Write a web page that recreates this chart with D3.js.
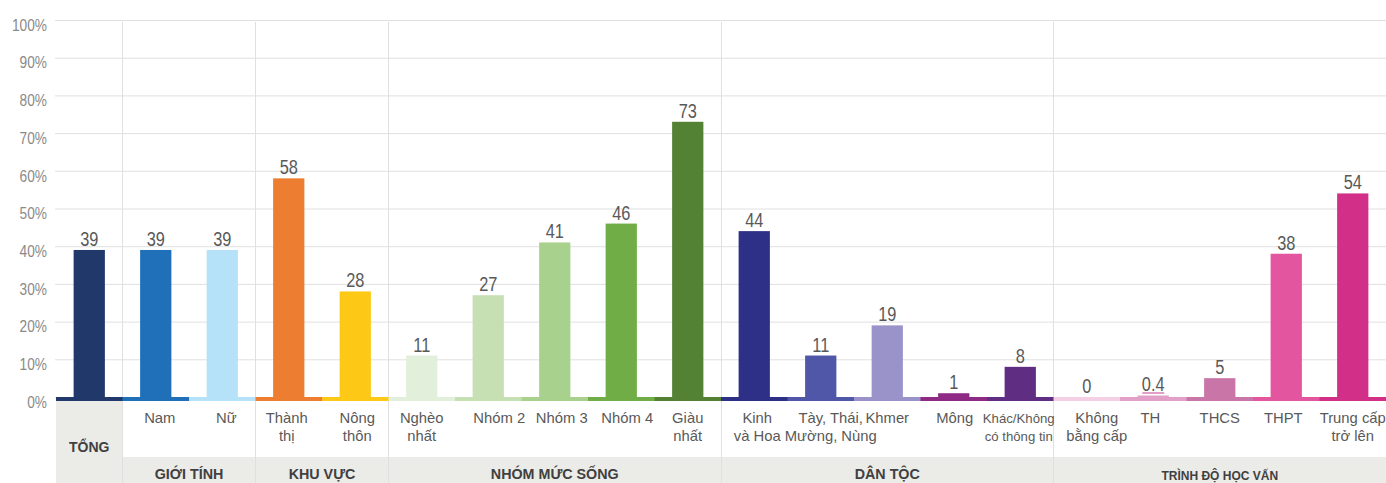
<!DOCTYPE html>
<html>
<head>
<meta charset="utf-8">
<script src="https://cdn.jsdelivr.net/npm/d3@7/dist/d3.min.js"></script>
<style>
  html, body { margin: 0; padding: 0; background: #fff; }
  svg { display: block; }
  text { font-family: "Liberation Sans", Arial, sans-serif; }
</style>
</head>
<body>
<svg id="chart" width="1386" height="483"></svg>
<script>
// Category keys, in drawing order
const categories = [
  "Tổng", "Nam", "Nữ", "Thành thị", "Nông thôn",
  "Nghèo nhất", "Nhóm 2", "Nhóm 3", "Nhóm 4", "Giàu nhất",
  "Kinh và Hoa", "Tày, Thái, Mường, Nùng", "Khmer", "Mông", "Khác/Không có thông tin",
  "Không bằng cấp", "TH", "THCS", "THPT", "Trung cấp trở lên"
];

// Axis-row label lines for each category
const labelLines = [
  ["TỔNG"], ["Nam"], ["Nữ"], ["Thành", "thị"], ["Nông", "thôn"],
  ["Nghèo", "nhất"], ["Nhóm 2"], ["Nhóm 3"], ["Nhóm 4"], ["Giàu", "nhất"],
  ["Kinh", "và Hoa"], ["Tày, Thái,", "Mường, Nùng"], ["Khmer"], ["Mông"], ["Khác/Không", "có thông tin"],
  ["Không", "bằng cấp"], ["TH"], ["THCS"], ["THPT"], ["Trung cấp", "trở lên"]
];

// Share (%) for each category
const values = [39, 39, 39, 58, 28, 11, 27, 41, 46, 73, 44, 11, 19, 1, 8, 0, 0.4, 5, 38, 54];

// Group headings and the index range [start, end) of categories they cover
const groupNames = ["GIỚI TÍNH", "KHU VỰC", "NHÓM MỨC SỐNG", "DÂN TỘC", "TRÌNH ĐỘ HỌC VẤN"];
const groupStarts = [1, 3, 5, 10, 15];
const groupEnds = [3, 5, 10, 15, 20];

// Y-axis ticks
const yTicks = [0, 10, 20, 30, 40, 50, 60, 70, 80, 90, 100];

// Fill colour for each category
const colors = [
  "#21386b", "#1f70b8", "#b5e2f8", "#ec7d31", "#fec817",
  "#e2efda", "#c6e0b4", "#a9d18e", "#70ad47", "#548235",
  "#2e3087", "#5057a8", "#9993c9", "#8e2a84", "#5f2d82",
  "#f5cfe3", "#e2a0c9", "#c975a7", "#e3559e", "#d12f88"
];

const W = 1386, H = 483;
const plotLeft = 56, plotRight = W;
const plotTop = 20, base = 397;

const svg = d3.select("#chart");

const x = d3.scaleBand().domain(categories).range([plotLeft, plotRight]).paddingInner(0).paddingOuter(0);
const y = d3.scaleLinear().domain([0, 100]).range([base, plotTop]);
const barW = x.bandwidth() * 0.47;

// Grey header cells
const gray = "#ebebe7";
svg.append("rect")
  .attr("x", x(categories[0])).attr("y", base + 4)
  .attr("width", x.bandwidth()).attr("height", H - base - 4)
  .attr("fill", gray);
svg.append("rect")
  .attr("x", x(categories[1])).attr("y", 457)
  .attr("width", plotRight - x(categories[1])).attr("height", H - 457)
  .attr("fill", gray);

// Gridlines + tick labels (tick text squeezed horizontally for a condensed look)
const yAxis = d3.axisLeft(y)
  .tickValues(yTicks)
  .tickFormat(d => d + "%")
  .tickSizeInner(-(plotRight - (plotLeft - 1)))
  .tickSizeOuter(0)
  .tickPadding(8);

const gy = svg.append("g")
  .attr("transform", `translate(${plotLeft - 1},0)`)
  .call(yAxis);
gy.select(".domain").remove();
gy.selectAll(".tick line").attr("stroke", "#e0e0e0").attr("stroke-width", 1);
gy.selectAll(".tick text")
  .attr("x", 0)
  .attr("transform", "translate(-8,0) scale(0.83,1)")
  .attr("font-family", "'Liberation Sans', Arial, sans-serif")
  .attr("font-size", 16.5)
  .attr("fill", "#8a8a8a")
  .attr("dy", "0.62em");

// Group separators
const sepIdx = [1].concat(groupStarts.slice(1));
svg.append("g").selectAll("line")
  .data(sepIdx)
  .join("line")
  .attr("x1", i => Math.floor(x(categories[i])) + 0.5)
  .attr("x2", i => Math.floor(x(categories[i])) + 0.5)
  .attr("y1", plotTop + 2).attr("y2", H)
  .attr("stroke", "#e0e0e0").attr("stroke-width", 1);

// Coloured baseline strip under each category
svg.append("g").selectAll("rect")
  .data(categories)
  .join("rect")
  .attr("x", d => x(d))
  .attr("y", base)
  .attr("width", x.bandwidth() + 0.5)
  .attr("height", 4)
  .attr("fill", (d, i) => colors[i]);

// Bars
svg.append("g").selectAll("rect")
  .data(categories)
  .join("rect")
  .attr("x", d => x(d) + (x.bandwidth() - barW) / 2)
  .attr("y", (d, i) => y(values[i]))
  .attr("width", barW)
  .attr("height", (d, i) => base - y(values[i]))
  .attr("fill", (d, i) => colors[i]);

// Value labels
const vl = svg.append("g").selectAll("g")
  .data(categories)
  .join("g");
vl.append("text")
  .attr("transform", (d, i) => `translate(${x(d) + x.bandwidth() / 2},${y(values[i]) - 4}) scale(0.84,1)`)
  .attr("text-anchor", "middle")
  .attr("font-size", 19.5)
  .attr("fill", "#595959")
  .text((d, i) => String(values[i]));
// Fractional values get an underline in the category colour
vl.filter(d => { const v = values[categories.indexOf(d)]; return v > 0 && v < 1; })
  .append("rect")
  .attr("x", d => x(d) + x.bandwidth() / 2 - 11)
  .attr("y", d => y(values[categories.indexOf(d)]) - 3.5)
  .attr("width", 22)
  .attr("height", 2)
  .attr("fill", d => colors[categories.indexOf(d)]);

// Category labels; a few are nudged sideways the way the layout sets them
const labelNudge = {
  "Nam": 4, "Nữ": 4, "Thành thị": -2, "Nông thôn": 2, "Nhóm 2": 11, "Nhóm 3": 7,
  "Nhóm 4": 6, "Kinh và Hoa": 3, "Tày, Thái, Mường, Nùng": 10, "Mông": 1,
  "Khác/Không có thông tin": -1.5, "Không bằng cấp": 10, "TH": -3, "THPT": -3
};
const labelSize = { "Khác/Không có thông tin": 13.2 };
const cl = svg.append("g").selectAll("text")
  .data(categories.slice(1))
  .join("text")
  .attr("text-anchor", "middle")
  .attr("font-size", d => labelSize[d] || 14.8)
  .attr("fill", "#595959");
cl.each(function(d) {
  const i = categories.indexOf(d);
  const t = d3.select(this);
  const cx = x(d) + x.bandwidth() / 2 + (labelNudge[d] || 0);
  labelLines[i].forEach((line, k) => {
    t.append("tspan")
      .attr("x", cx)
      .attr("y", 423 + k * 18)
      .text(line);
  });
});

// Total header
svg.append("text")
  .attr("x", x(categories[0]) + x.bandwidth() / 2)
  .attr("y", 452)
  .attr("text-anchor", "middle")
  .attr("font-size", 14)
  .attr("font-weight", "bold")
  .attr("fill", "#404040")
  .text(labelLines[0][0]);

// Group headings
svg.append("g").selectAll("text")
  .data(groupNames)
  .join("text")
  .attr("x", (d, g) => (x(categories[groupStarts[g]]) + (groupEnds[g] < categories.length ? x(categories[groupEnds[g]]) : plotRight)) / 2)
  .attr("y", (d, g) => g === 4 ? 479.5 : 479)
  .attr("text-anchor", "middle")
  .attr("font-size", (d, g) => g === 4 ? 12 : 14.3)
  .attr("font-weight", "bold")
  .attr("fill", "#404040")
  .text(d => d);
</script>
</body>
</html>
